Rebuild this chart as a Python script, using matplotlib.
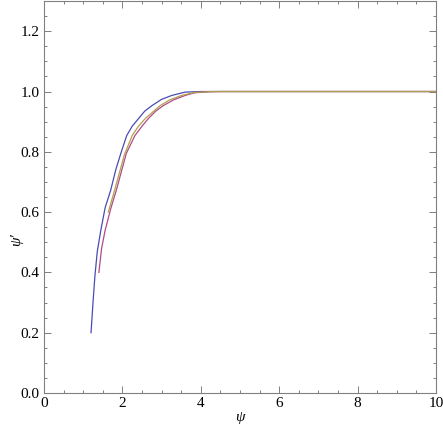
import matplotlib
matplotlib.use("Agg")
import matplotlib.pyplot as plt
from matplotlib.ticker import MultipleLocator, FormatStrFormatter

# curves
blue_x = [1.2, 1.25, 1.3, 1.36, 1.45, 1.56, 1.70, 1.83, 1.96, 2.11, 2.25, 2.41, 2.57, 2.75, 3.0, 3.26, 3.6, 4.0, 10.0]
blue_y = [0.2, 0.3, 0.39, 0.47, 0.54, 0.615, 0.672, 0.74, 0.795, 0.854, 0.885, 0.91, 0.935, 0.953, 0.974, 0.987, 0.998, 1.0, 1.0]

red_x = [1.4, 1.47, 1.56, 1.7, 1.85, 2.1, 2.32, 2.5, 2.66, 2.85, 3.04, 3.3, 3.6, 3.85, 4.2, 4.5, 10.0]
red_y = [0.4, 0.48, 0.54, 0.61, 0.675, 0.795, 0.854, 0.885, 0.91, 0.935, 0.953, 0.972, 0.987, 0.996, 0.999, 1.0, 1.0]

yel_x = [1.64, 1.8, 2.05, 2.25, 2.41, 2.58, 2.96, 3.2, 3.51, 3.85, 4.3, 10.0]
yel_y = [0.6, 0.672, 0.79, 0.854, 0.885, 0.91, 0.953, 0.972, 0.987, 0.997, 1.0, 1.0]

plt.rcParams['font.family'] = ['Liberation Serif', 'DejaVu Serif']
plt.rcParams['font.size'] = 11

fig = plt.figure(figsize=(4.43, 4.34), dpi=100)
ax = fig.add_axes([0.0993, 0.0945, 0.885, 0.903])

ax.plot(blue_x, blue_y, color='#4b4bb4', lw=0.9)
ax.plot(red_x, red_y, color='#b04a86', lw=0.9)
ax.plot(yel_x, yel_y, color='#b0a050', lw=0.9)

ax.set_xlim(0, 10)
ax.set_ylim(0, 1.3)
ax.xaxis.set_major_locator(MultipleLocator(2))
ax.xaxis.set_minor_locator(MultipleLocator(0.5))
ax.yaxis.set_major_locator(MultipleLocator(0.2))
ax.yaxis.set_minor_locator(MultipleLocator(0.05))
ax.yaxis.set_major_formatter(FormatStrFormatter('%.1f'))

for s in ax.spines.values():
    s.set_color('#808080')
    s.set_linewidth(0.8)
ax.tick_params(which='both', direction='in', top=True, right=True, color='#808080', width=0.7)
ax.tick_params(which='major', length=5, pad=3)
ax.tick_params(which='minor', length=2.5)

fig.text(240 / 443, 1 - 418 / 434, "ψ", ha='center', va='center', style='italic', fontsize=11)
fig.text(17 / 443, 1 - 240 / 434, "ψ′", ha='center', va='center', rotation=90, style='italic', fontsize=11)

fig.savefig("out.png", dpi=100)
